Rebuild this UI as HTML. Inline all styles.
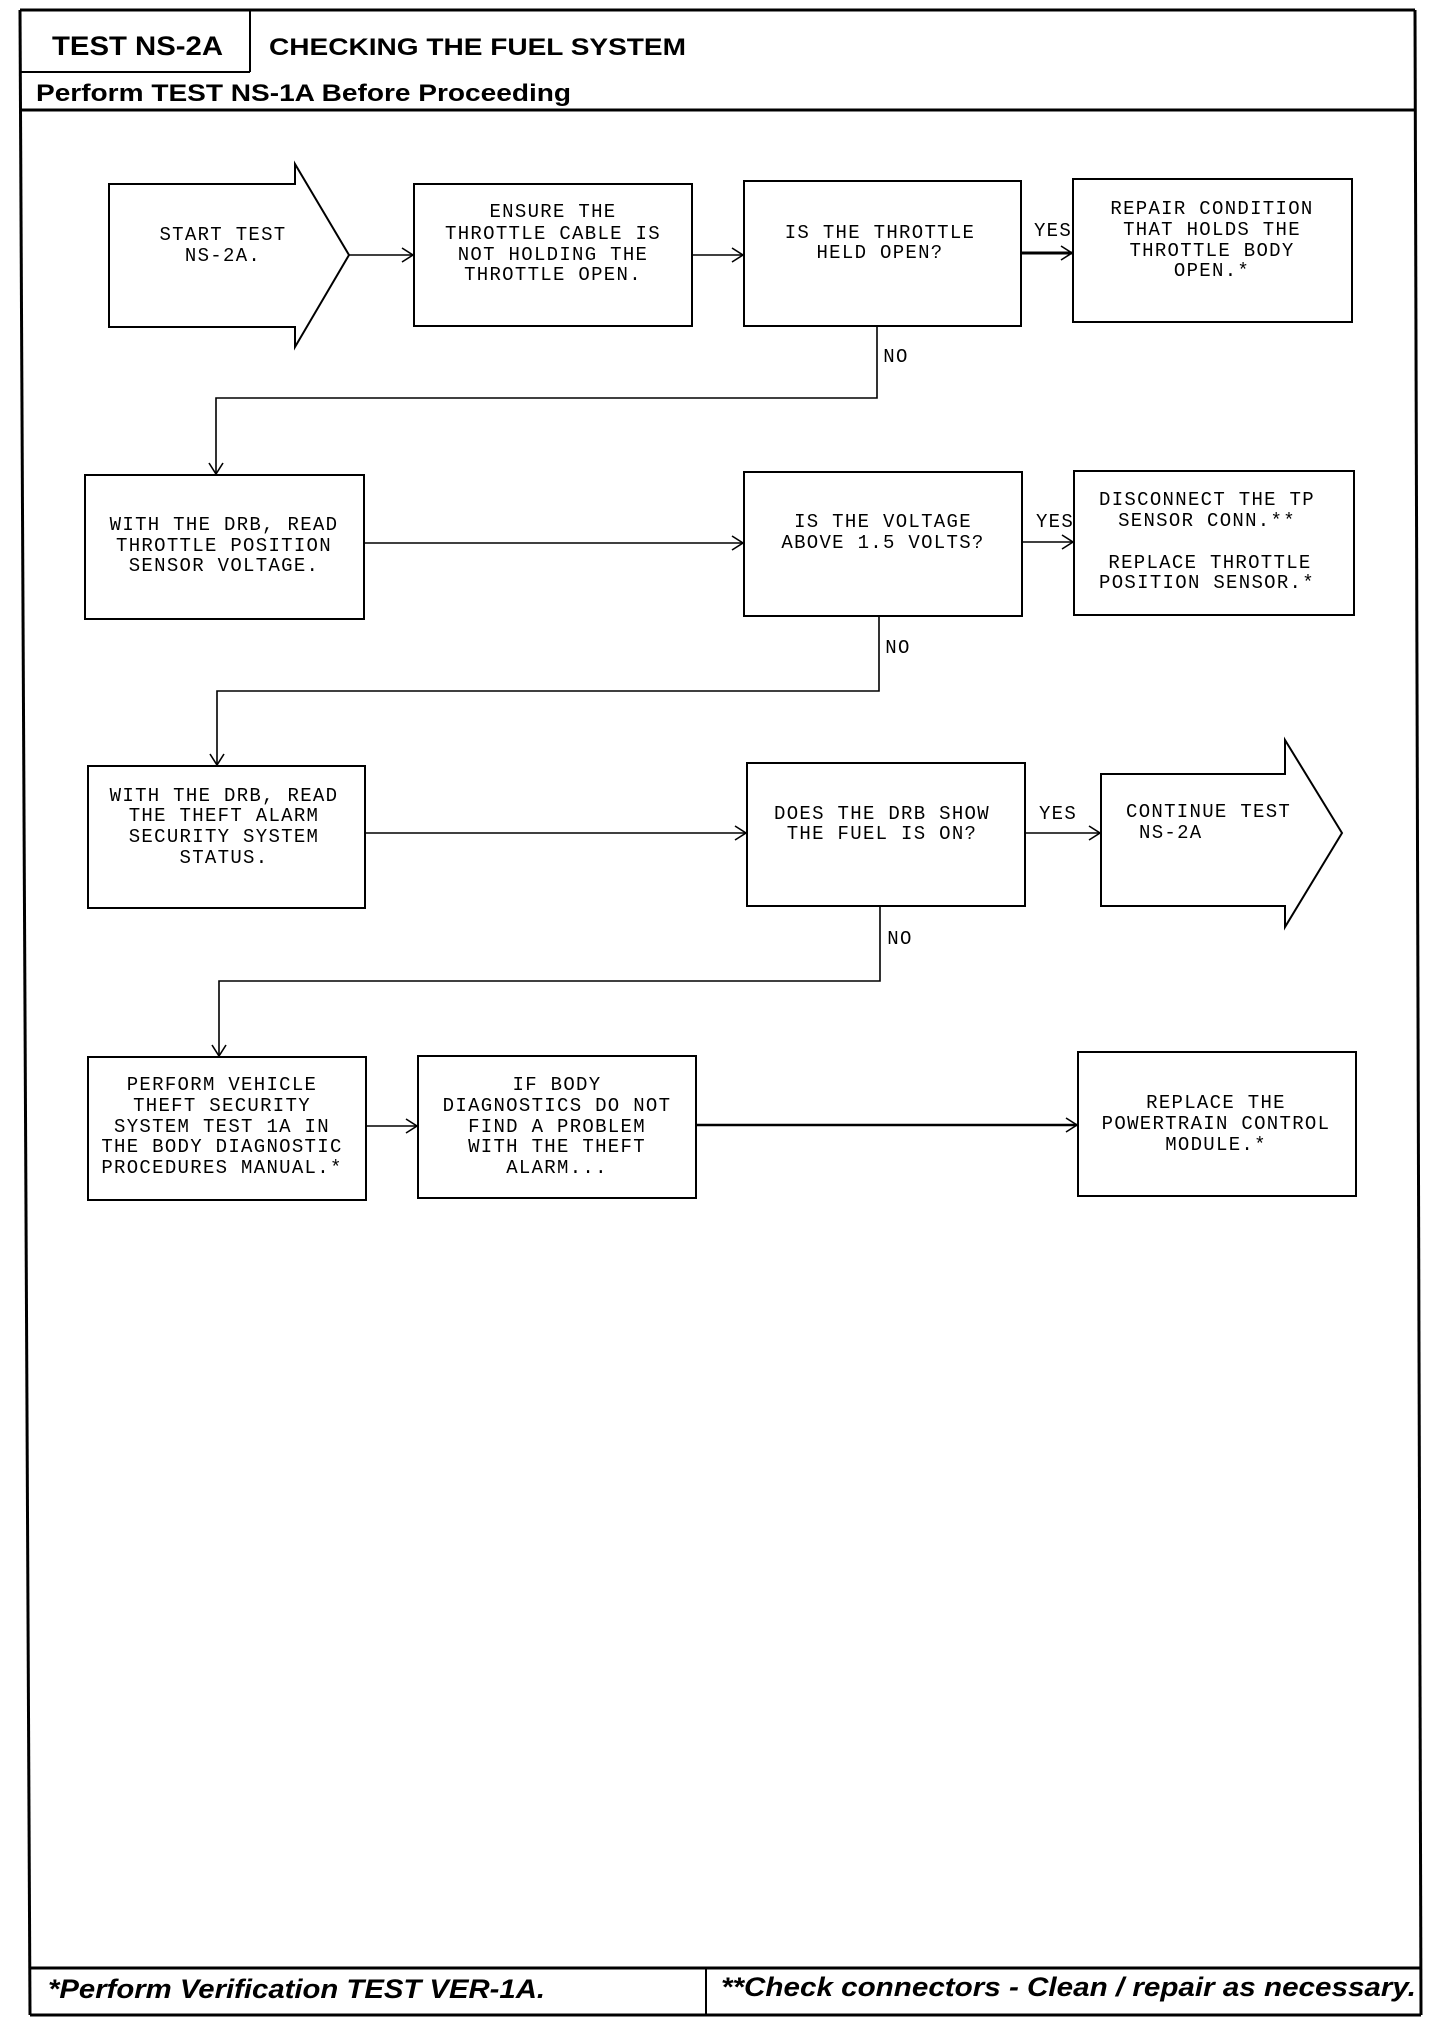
<!DOCTYPE html>
<html><head><meta charset="utf-8"><style>
html,body{margin:0;padding:0;background:#fff;}
svg{display:block;}
.m{font-family:"Liberation Mono",monospace;font-size:19px;letter-spacing:1.3px;fill:#000;text-anchor:middle;}
.l{font-family:"Liberation Mono",monospace;font-size:19px;letter-spacing:1.3px;fill:#000;}
.h{font-family:"Liberation Sans",sans-serif;font-weight:bold;fill:#000;}
</style></head><body>
<svg width="1456" height="2028" viewBox="0 0 1456 2028" xmlns="http://www.w3.org/2000/svg">
<g stroke="#000" fill="none">
<!-- outer frame -->
<line x1="20" y1="10" x2="1415" y2="10" stroke-width="3"/>
<line x1="20" y1="10" x2="30" y2="2015" stroke-width="3"/>
<line x1="1415" y1="10" x2="1421" y2="2015" stroke-width="3"/>
<line x1="30" y1="2015" x2="1421" y2="2015" stroke-width="3"/>
<line x1="21" y1="110" x2="1416" y2="110" stroke-width="3"/>
<line x1="20" y1="72" x2="250" y2="72" stroke-width="2"/>
<line x1="250" y1="10" x2="250" y2="72" stroke-width="2"/>
<line x1="29" y1="1968" x2="1420" y2="1968" stroke-width="3"/>
<line x1="706" y1="1968" x2="706" y2="2015" stroke-width="2"/>

<g stroke-width="2">
<polygon points="109,184 295,184 295,164 349,255 295,347 295,327 109,327"/>
<rect x="414" y="184" width="278" height="142"/>
<rect x="744" y="181" width="277" height="145"/>
<rect x="1073" y="179" width="279" height="143"/>
<rect x="85" y="475" width="279" height="144"/>
<rect x="744" y="472" width="278" height="144"/>
<rect x="1074" y="471" width="280" height="144"/>
<rect x="88" y="766" width="277" height="142"/>
<rect x="747" y="763" width="278" height="143"/>
<polygon points="1101,774 1285,774 1285,740 1342,833 1285,927 1285,906 1101,906"/>
<rect x="88" y="1057" width="278" height="143"/>
<rect x="418" y="1056" width="278" height="142"/>
<rect x="1078" y="1052" width="278" height="144"/>
</g>

<g stroke-width="1.6">
<line x1="349" y1="255" x2="414" y2="255"/><polyline points="402,248 413,255 402,262"/>
<line x1="692" y1="255" x2="744" y2="255"/><polyline points="732,248 743,255 732,262"/>
<line x1="1021" y1="253" x2="1073" y2="253" stroke-width="3"/><polyline points="1061,246 1072,253 1061,260"/>
<polyline points="877,326 877,398 216,398 216,475"/><polyline points="209,463 216,474 223,463"/>
<line x1="364" y1="543" x2="744" y2="543"/><polyline points="732,536 743,543 732,550"/>
<line x1="1022" y1="542" x2="1074" y2="542"/><polyline points="1062,535 1073,542 1062,549"/>
<polyline points="879,616 879,691 217,691 217,766"/><polyline points="210,754 217,765 224,754"/>
<line x1="365" y1="833" x2="747" y2="833"/><polyline points="735,826 746,833 735,840"/>
<line x1="1025" y1="833" x2="1101" y2="833"/><polyline points="1089,826 1100,833 1089,840"/>
<polyline points="880,906 880,981 219,981 219,1057"/><polyline points="212,1045 219,1056 226,1045"/>
<line x1="366" y1="1126" x2="418" y2="1126"/><polyline points="406,1119 417,1126 406,1133"/>
<line x1="696" y1="1125" x2="1078" y2="1125" stroke-width="2.4"/><polyline points="1066,1118 1077,1125 1066,1132"/>
</g>
</g>

<text class="h" x="52" y="55" font-size="27" textLength="171" lengthAdjust="spacingAndGlyphs">TEST NS-2A</text>
<text class="h" x="269" y="55" font-size="24" textLength="417" lengthAdjust="spacingAndGlyphs">CHECKING THE FUEL SYSTEM</text>
<text class="h" x="36" y="101" font-size="24" textLength="535" lengthAdjust="spacingAndGlyphs">Perform TEST NS-1A Before Proceeding</text>
<text class="h" x="48" y="1998" font-size="27" font-style="italic" textLength="497" lengthAdjust="spacingAndGlyphs">*Perform Verification TEST VER-1A.</text>
<text class="h" x="721" y="1996" font-size="27" font-style="italic" textLength="695" lengthAdjust="spacingAndGlyphs">**Check connectors - Clean / repair as necessary.</text>

<text class="m" x="223" y="240">START TEST</text>
<text class="m" x="223" y="261">NS-2A.</text>

<text class="m" x="553" y="217">ENSURE THE</text>
<text class="m" x="553" y="239">THROTTLE CABLE IS</text>
<text class="m" x="553" y="260">NOT HOLDING THE</text>
<text class="m" x="553" y="280">THROTTLE OPEN.</text>

<text class="m" x="880" y="238">IS THE THROTTLE</text>
<text class="m" x="880" y="258">HELD OPEN?</text>

<text class="m" x="1212" y="214">REPAIR CONDITION</text>
<text class="m" x="1212" y="235">THAT HOLDS THE</text>
<text class="m" x="1212" y="256">THROTTLE BODY</text>
<text class="m" x="1212" y="276">OPEN.*</text>

<text class="m" x="1053" y="236">YES</text>
<text class="m" x="896" y="362">NO</text>

<text class="m" x="224" y="530">WITH THE DRB, READ</text>
<text class="m" x="224" y="551">THROTTLE POSITION</text>
<text class="m" x="224" y="571">SENSOR VOLTAGE.</text>

<text class="m" x="883" y="527">IS THE VOLTAGE</text>
<text class="m" x="883" y="548">ABOVE 1.5 VOLTS?</text>

<text class="m" x="1055" y="527">YES</text>

<text class="m" x="1207" y="505">DISCONNECT THE TP</text>
<text class="m" x="1207" y="526">SENSOR CONN.**</text>
<text class="m" x="1210" y="568">REPLACE THROTTLE</text>
<text class="m" x="1207" y="588">POSITION SENSOR.*</text>

<text class="m" x="898" y="653">NO</text>

<text class="m" x="224" y="801">WITH THE DRB, READ</text>
<text class="m" x="224" y="821">THE THEFT ALARM</text>
<text class="m" x="224" y="842">SECURITY SYSTEM</text>
<text class="m" x="224" y="863">STATUS.</text>

<text class="m" x="882" y="819">DOES THE DRB SHOW</text>
<text class="m" x="882" y="839">THE FUEL IS ON?</text>

<text class="m" x="1058" y="819">YES</text>

<text class="l" x="1126" y="817">CONTINUE TEST</text>
<text class="l" x="1139" y="838">NS-2A</text>

<text class="m" x="900" y="944">NO</text>

<text class="m" x="222" y="1090">PERFORM VEHICLE</text>
<text class="m" x="222" y="1111">THEFT SECURITY</text>
<text class="m" x="222" y="1132">SYSTEM TEST 1A IN</text>
<text class="m" x="222" y="1152">THE BODY DIAGNOSTIC</text>
<text class="m" x="222" y="1173">PROCEDURES MANUAL.*</text>

<text class="m" x="557" y="1090">IF BODY</text>
<text class="m" x="557" y="1111">DIAGNOSTICS DO NOT</text>
<text class="m" x="557" y="1132">FIND A PROBLEM</text>
<text class="m" x="557" y="1152">WITH THE THEFT</text>
<text class="m" x="557" y="1173">ALARM...</text>

<text class="m" x="1216" y="1108">REPLACE THE</text>
<text class="m" x="1216" y="1129">POWERTRAIN CONTROL</text>
<text class="m" x="1216" y="1150">MODULE.*</text>
</svg>
</body></html>
